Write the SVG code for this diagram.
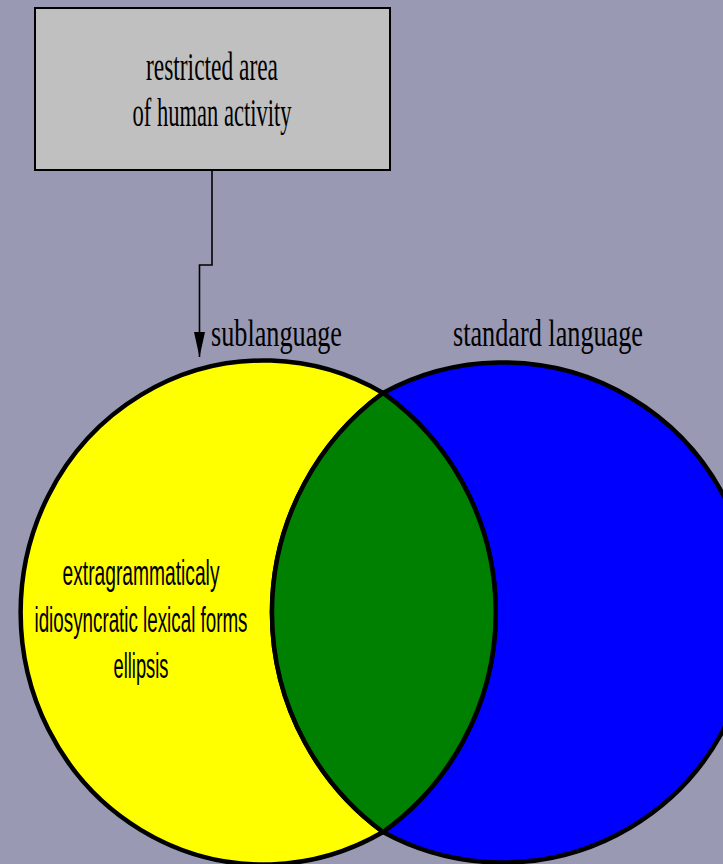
<svg xmlns="http://www.w3.org/2000/svg" width="723" height="864" viewBox="0 0 723 864">
  <defs>
    <style>
      .bg { fill: #9999b3; }
      .box { fill: #c0c0c0; stroke: #000; stroke-width: 2; }
      .region { stroke: #000; stroke-width: 4.5; stroke-linejoin: round; }
      .serif { font-family: "Liberation Serif", "Times New Roman", serif; fill: #000; text-anchor: middle; }
      .sans { font-family: "Liberation Sans", Arial, sans-serif; fill: #000; text-anchor: middle; font-size: 35px; }
      .edge { fill: none; stroke: #000; stroke-width: 1.6; }
    </style>
    <marker id="arrow" viewBox="0 0 25 11" refX="25" refY="5.5" markerWidth="25" markerHeight="11" markerUnits="userSpaceOnUse" orient="auto">
      <path d="M0,0 L25,5.5 L0,11 z" fill="#000"/>
    </marker>
  </defs>

  <rect class="bg" x="0" y="0" width="723" height="864"/>

  <!-- source box -->
  <g id="activity-area">
    <rect class="box" x="35" y="8" width="355" height="162"/>
    <text class="serif" font-size="40" x="212" y="80" textLength="132" lengthAdjust="spacingAndGlyphs">restricted area</text>
    <text class="serif" font-size="40" x="212" y="126" textLength="159" lengthAdjust="spacingAndGlyphs">of human activity</text>
  </g>

  <!-- connectors -->
  <g id="connectors">
    <path class="edge" d="M212,170 V265 H199.5 V357" marker-end="url(#arrow)"/>
  </g>

  <!-- sublanguage-only part -->
  <g id="sublanguage">
    <path class="region" fill="#ffff00" d="M383,393 A243,252 0 1 0 383,832 A272.5,272.5 0 0 1 383,393 Z"/>
    <text class="serif" font-size="37" x="276.5" y="346" textLength="131" lengthAdjust="spacingAndGlyphs">sublanguage</text>
    <text class="sans" x="141" y="585" textLength="157" lengthAdjust="spacingAndGlyphs">extragrammaticaly</text>
    <text class="sans" x="141" y="632" textLength="213" lengthAdjust="spacingAndGlyphs">idiosyncratic lexical forms</text>
    <text class="sans" x="141" y="678" textLength="55" lengthAdjust="spacingAndGlyphs">ellipsis</text>
  </g>

  <!-- standard-language-only part -->
  <g id="standard-language">
    <path class="region" fill="#0000ff" d="M383,393 A250,250 0 1 1 383,832 A270,270 0 0 0 383,393 Z"/>
    <text class="serif" font-size="37" x="548" y="346" textLength="190" lengthAdjust="spacingAndGlyphs">standard language</text>
  </g>

  <!-- shared part -->
  <g id="overlap">
    <path class="region" fill="#008000" d="M383,393 A272.5,272.5 0 0 0 383,832 A270,270 0 0 0 383,393 Z"/>
  </g>
</svg>
